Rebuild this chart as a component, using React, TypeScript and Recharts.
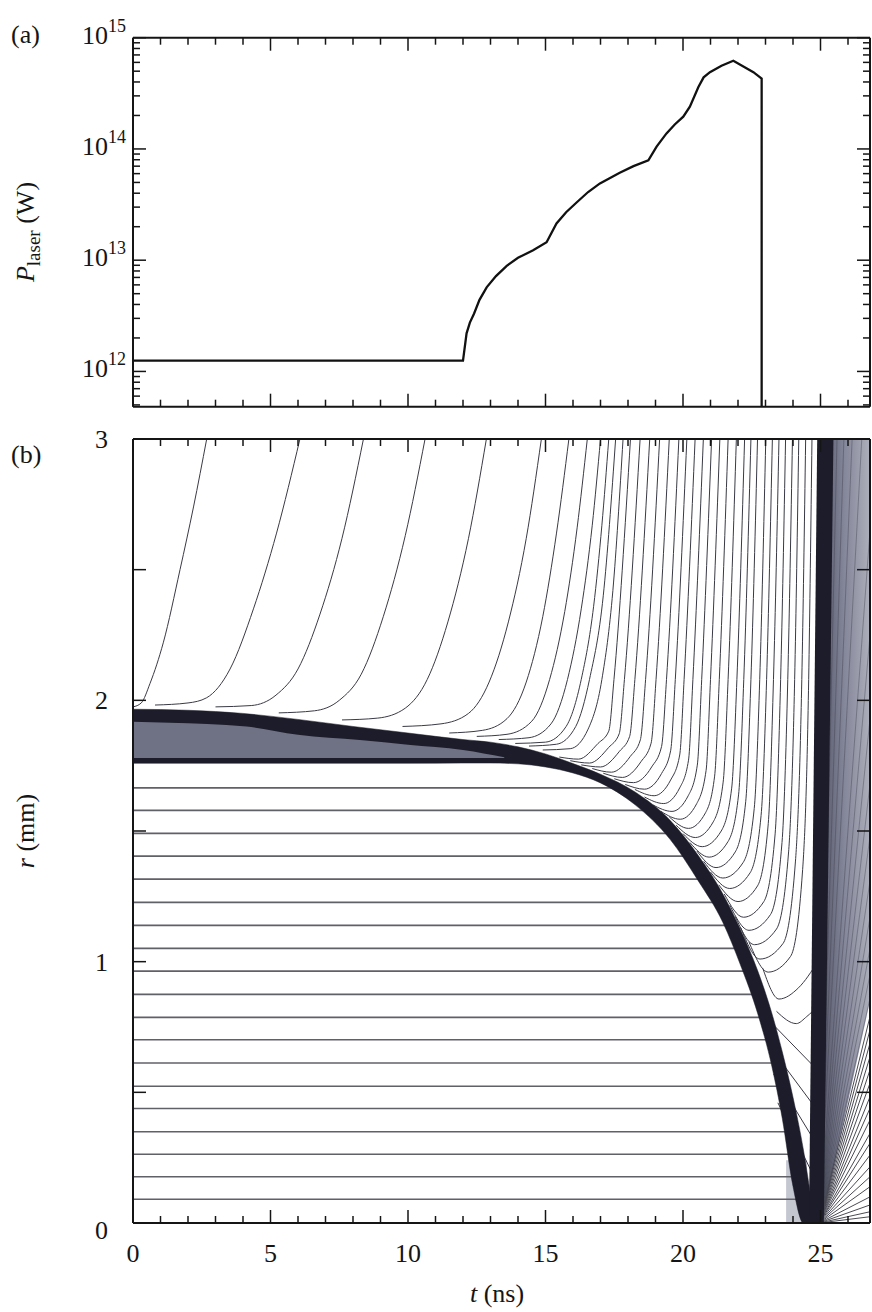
import React from 'react';
import { ComposedChart, Line, Area, XAxis, YAxis } from 'recharts';

const FONT = "'Liberation Serif', 'Times New Roman', Times, serif";
const INK = '#151515';
const TXT: React.CSSProperties = { fontFamily: FONT };

// ---------------- Panel (a): laser power ----------------
const laserT = [0, 12.0, 12.13, 12.25, 12.4, 12.6, 12.86, 13.2, 13.59, 14.0, 14.55, 15.04, 15.4, 15.75, 16.13, 16.55, 16.98, 17.7, 18.2, 18.74, 19.04, 19.4, 19.7, 20.01, 20.25, 20.56, 20.75, 20.98, 21.4, 21.83, 22.56, 22.86, 22.86];
const laserP = [1.25e12, 1.25e12, 2.2e12, 2.75e12, 3.3e12, 4.4e12, 5.7e12, 7.2e12, 8.9e12, 1.05e13, 1.23e13, 1.45e13, 2.14e13, 2.7e13, 3.3e13, 4.1e13, 4.9e13, 6.1e13, 7.0e13, 7.9e13, 1.05e14, 1.38e14, 1.66e14, 1.95e14, 2.4e14, 3.6e14, 4.4e14, 4.9e14, 5.6e14, 6.2e14, 4.9e14, 4.3e14, 4.9e11];
const powerDomain = [4.82e11, 1e15];
const powerTicks = [5e11, 6e11, 7e11, 8e11, 9e11, 1e12, 2e12, 3e12, 4e12, 5e12, 6e12, 7e12, 8e12, 9e12, 1e13, 2e13, 3e13, 4e13, 5e13, 6e13, 7e13, 8e13, 9e13, 1e14, 2e14, 3e14, 4e14, 5e14, 6e14, 7e14, 8e14, 9e14, 1e15];
const timeTicks = [0, 1, 2, 3, 4, 5, 6, 7, 8, 9, 10, 11, 12, 13, 14, 15, 16, 17, 18, 19, 20, 21, 22, 23, 24, 25, 26];
const timeDomain = [0, 26.8];

// ---------------- Panel (b): zone radii ----------------
const radiusTicks = [0, 0.5, 1, 1.5, 2, 2.5, 3];

// fuel zone boundaries (flat until the shell arrives)
const fuelR = [0.091, 0.177, 0.263, 0.349, 0.438, 0.523, 0.612, 0.701, 0.787, 0.875, 0.964, 1.051, 1.139, 1.227, 1.316, 1.404, 1.491, 1.579, 1.665];
const fuelEnd = [24.3, 24.1, 24.0, 23.85, 23.7, 23.6, 23.45, 23.2, 23.0, 22.7, 22.35, 22.05, 21.7, 21.35, 20.8, 20.2, 19.6, 18.75, 17.6];

// dense shell (dark band)
const shellT = [0, 2, 4, 6, 8, 10, 12, 13, 14, 15, 16, 16.98, 18.26, 19.53, 20.55, 21.45, 22.08, 22.72, 23.23, 23.61, 24.0, 24.38, 24.77];
const shellTop = [1.966, 1.962, 1.95, 1.927, 1.9, 1.875, 1.85, 1.84, 1.822, 1.795, 1.758, 1.718, 1.649, 1.541, 1.407, 1.259, 1.125, 0.964, 0.803, 0.655, 0.481, 0.279, 0.01];
const shellBottom = [1.759, 1.759, 1.759, 1.759, 1.759, 1.759, 1.76, 1.76, 1.757, 1.745, 1.722, 1.685, 1.6, 1.468, 1.31, 1.15, 0.99, 0.8, 0.6, 0.4, 0.14, 0.0, 0.0];

// lighter (ice) layer inside the shell at early times
const iceT = [0, 2, 3.4, 4.13, 6, 8.25, 10, 12, 13.5];
const iceTop = [1.918, 1.912, 1.906, 1.9, 1.868, 1.848, 1.83, 1.81, 1.782];
const iceBottom = [1.779, 1.779, 1.779, 1.779, 1.779, 1.779, 1.779, 1.779, 1.779];

// stagnation / disassembly band
const vbandT = [24.58, 24.88, 25.12, 25.47];
const vbandLo = [0, 0, 0, 3];
const vbandHi = [0, 3, 3, 3];

// grey expanding plume to the right
const plumeT = [25.1, 26.8];
const plumeLo = [0.03, 0.85];
const plumeHi = [3, 3];

// compressed core (hatched)
const coreT = [23.75, 24.5];
const coreLo = [0, 0];
const coreHi = [0.24, 0.24];

// re-expanding fuel zones (end radius at right edge)
const fanEndR = [0.024, 0.043, 0.069, 0.1, 0.139, 0.177, 0.215, 0.26, 0.305, 0.343, 0.394, 0.439, 0.483, 0.535, 0.586, 0.636, 0.688, 0.739, 0.79];
const plumeFanR = [0.86, 0.95, 1.05, 1.17, 1.31, 1.48, 1.68, 1.93, 2.25, 2.65];
const plumeFanTopT = [26.5, 26.15, 25.85, 25.6];

// ablated-plasma zone boundaries (t, r)
const ablationLines: number[][][] = [
  [[0, 1.975], [0.3, 1.99], [0.62, 2.065], [1.1, 2.22], [1.71, 2.5], [2.2, 2.74], [2.68, 3.0]],
  [[0.8, 1.982], [2.0, 1.99], [2.68, 2.01], [3.53, 2.12], [4.38, 2.35], [5.22, 2.64], [6.07, 3.0]],
  [[3.0, 1.975], [4.3, 1.98], [5.2, 2.02], [6.0, 2.12], [6.8, 2.33], [7.6, 2.62], [8.38, 3.0]],
  [[5.3, 1.952], [6.6, 1.96], [7.5, 2.0], [8.3, 2.1], [9.1, 2.32], [9.9, 2.63], [10.62, 3.0]],
  [[7.6, 1.925], [8.9, 1.932], [9.9, 1.97], [10.7, 2.08], [11.45, 2.3], [12.2, 2.62], [12.85, 3.0]],
  [[9.8, 1.9], [11.2, 1.91], [12.2, 1.95], [12.95, 2.07], [13.65, 2.3], [14.3, 2.62], [14.85, 3.0]],
  [[11.5, 1.875], [12.7, 1.885], [13.6, 1.93], [14.3, 2.07], [14.9, 2.32], [15.4, 2.64], [15.85, 3.0]],
  [[12.5, 1.862], [13.6, 1.87], [14.5, 1.92], [15.15, 2.08], [15.7, 2.34], [16.15, 2.66], [16.52, 3.0]],
  [[13.3, 1.85], [14.4, 1.857], [15.2, 1.91], [15.8, 2.08], [16.3, 2.35], [16.7, 2.67], [17.0, 3.0]],
  [[13.9, 1.835], [15.0, 1.84], [15.75, 1.9], [16.3, 2.08], [16.75, 2.36], [17.05, 2.67], [17.3, 3.0]],
  [[14.4, 1.825], [15.4, 1.832], [16.1, 1.9], [16.6, 2.08], [17.1, 2.4], [17.55, 3.0]],
  [[14.9, 1.81], [15.9, 1.815], [16.55, 1.89], [17.05, 2.08], [17.45, 2.42], [17.82, 3.0]],
];

const turningLines: number[][][] = [
  [[15.5, 1.783], [16.2, 1.775], [16.91, 1.835], [17.3, 1.882], [17.49, 2.08], [18.09, 3.0]],
  [[15.9, 1.769], [16.6, 1.76], [17.3, 1.82], [17.68, 1.872], [17.87, 2.08], [18.44, 3.0]],
  [[16.3, 1.753], [17.0, 1.745], [17.69, 1.805], [18.06, 1.862], [18.25, 2.08], [18.79, 3.0]],
  [[16.7, 1.739], [17.4, 1.725], [18.08, 1.785], [18.45, 1.849], [18.64, 2.08], [19.15, 3.0]],
  [[17.1, 1.721], [17.8, 1.705], [18.47, 1.765], [18.84, 1.836], [19.02, 2.08], [19.5, 3.0]],
  [[17.5, 1.7], [18.2, 1.685], [18.86, 1.745], [19.22, 1.823], [19.4, 2.08], [19.85, 3.0]],
  [[17.9, 1.678], [18.6, 1.66], [19.22, 1.72], [19.55, 1.807], [19.72, 2.08], [20.14, 3.0]],
  [[18.25, 1.659], [18.95, 1.635], [19.55, 1.695], [19.88, 1.791], [20.04, 2.08], [20.44, 3.0]],
  [[18.6, 1.63], [19.3, 1.605], [19.88, 1.665], [20.2, 1.771], [20.36, 2.08], [20.74, 3.0]],
  [[18.9, 1.6], [19.6, 1.575], [20.19, 1.635], [20.52, 1.752], [20.68, 2.08], [21.04, 3.0]],
  [[19.2, 1.575], [19.9, 1.545], [20.5, 1.605], [20.84, 1.732], [21.0, 2.08], [21.34, 3.0]],
  [[19.5, 1.554], [20.2, 1.51], [20.82, 1.57], [21.15, 1.71], [21.32, 2.08], [21.64, 3.0]],
  [[19.75, 1.522], [20.45, 1.475], [21.1, 1.535], [21.46, 1.687], [21.64, 2.08], [21.94, 3.0]],
  [[20.0, 1.49], [20.7, 1.44], [21.39, 1.5], [21.77, 1.664], [21.96, 2.08], [22.24, 3.0]],
  [[20.25, 1.456], [20.95, 1.4], [21.64, 1.46], [22.02, 1.638], [22.21, 2.08], [22.47, 3.0]],
  [[20.5, 1.424], [21.2, 1.36], [21.9, 1.42], [22.28, 1.612], [22.47, 2.08], [22.71, 3.0]],
  [[20.75, 1.384], [21.45, 1.32], [22.19, 1.38], [22.59, 1.586], [22.79, 2.08], [23.01, 3.0]],
  [[21.0, 1.343], [21.7, 1.28], [22.44, 1.34], [22.84, 1.56], [23.04, 2.08], [23.25, 3.0]],
  [[21.3, 1.294], [22.0, 1.23], [22.71, 1.29], [23.1, 1.528], [23.29, 2.08], [23.49, 3.0]],
  [[21.5, 1.259], [22.2, 1.17], [22.94, 1.23], [23.35, 1.489], [23.55, 2.08], [23.73, 3.0]],
  [[21.7, 1.216], [22.4, 1.12], [23.18, 1.18], [23.6, 1.456], [23.81, 2.08], [23.98, 3.0]],
  [[21.9, 1.173], [22.6, 1.065], [23.4, 1.125], [23.84, 1.42], [24.06, 2.08], [24.21, 3.0]],
  [[22.1, 1.13], [22.8, 1.01], [23.64, 1.07], [24.09, 1.385], [24.32, 2.08], [24.46, 3.0]],
  [[22.4, 1.075], [23.1, 0.96], [23.91, 1.02], [24.35, 1.352], [24.57, 2.08], [24.69, 3.0]],
];

const trappedLines: number[][][] = [
  [[22.9, 0.975], [23.49, 0.857], [24.2, 0.9], [24.9, 1.0]],
  [[23.4, 0.81], [24.12, 0.763], [24.5, 0.79], [24.9, 0.83]],
  [[22.9, 0.8], [24.75, 0.6]],
  [[23.16, 0.675], [24.75, 0.45]],
  [[23.3, 0.57], [24.75, 0.32]],
  [[23.45, 0.46], [24.75, 0.18]],
];

// ---------------- helpers ----------------
const pts = (arr: number[][]) => arr.map(([t, r]) => ({ t, r }));
const rangeData = (ts: number[], lo: number[], hi: number[]) => ts.map((t, i) => ({ t, v: [lo[i], hi[i]] }));

function seg(key: string, data: any[], stroke: string, width: number, type: any = 'monotone', opacity = 1) {
  return (
    <Line
      key={key}
      data={data}
      dataKey="r"
      type={type}
      stroke={stroke}
      strokeWidth={width}
      strokeOpacity={opacity}
      dot={false}
      activeDot={false}
      isAnimationActive={false}
      legendType="none"
    />
  );
}

function makeTimeTick(side: 'top' | 'bottom', withLabels: boolean) {
  return (props: any) => {
    const { x, y, payload } = props;
    const v = Number(payload.value);
    const major = Math.round(v) % 5 === 0;
    const len = major ? 13 : 7;
    const y2 = side === 'bottom' ? y - len : y + len;
    return (
      <g>
        <line x1={x} x2={x} y1={y} y2={y2} stroke={INK} strokeWidth={1.5} />
        {withLabels && major ? (
          <text x={x} y={y + 39} textAnchor="middle" style={TXT} fontSize={26} fill={INK}>
            {v}
          </text>
        ) : null}
      </g>
    );
  };
}

function makePowerTick(side: 'left' | 'right') {
  return (props: any) => {
    const { x, y, payload } = props;
    const v = Number(payload.value);
    const lg = Math.log10(v);
    const e = Math.round(lg);
    const major = Math.abs(lg - e) < 1e-6;
    const len = major ? 13 : 7;
    const x2 = side === 'left' ? x + len : x - len;
    return (
      <g>
        <line x1={x} x2={x2} y1={y} y2={y} stroke={INK} strokeWidth={1.5} />
        {side === 'left' && major ? (
          <text x={x - 7} y={y + 6} textAnchor="end" style={TXT} fontSize={26} fill={INK}>
            10
            <tspan dy={-12} fontSize={18}>
              {e}
            </tspan>
          </text>
        ) : null}
      </g>
    );
  };
}

function makeRadiusTick(side: 'left' | 'right') {
  return (props: any) => {
    const { x, y, payload } = props;
    const v = Number(payload.value);
    const isInt = Math.abs(v - Math.round(v)) < 1e-6;
    const len = 13;
    const x2 = side === 'left' ? x + len : x - len;
    return (
      <g>
        <line x1={x} x2={x2} y1={y} y2={y} stroke={INK} strokeWidth={1.5} />
        {side === 'left' && isInt ? (
          <text x={x - 25} y={y + (v === 0 ? 16 : 9)} textAnchor="end" style={TXT} fontSize={26} fill={INK}>
            {v}
          </text>
        ) : null}
      </g>
    );
  };
}

const axisLine = { stroke: INK, strokeWidth: 2 };

function PanelA() {
  const data = laserT.map((t, i) => ({ t, p: laserP[i] }));
  return (
    <ComposedChart width={872} height={420} margin={{ top: 36.7, right: 1, bottom: 12.3, left: 0 }}>
      <XAxis xAxisId={0} dataKey="t" type="number" domain={timeDomain} allowDataOverflow ticks={timeTicks} interval={0}
        height={1} tickSize={0} tickMargin={0} tickLine={false} axisLine={axisLine} tick={makeTimeTick('bottom', false)} />
      <XAxis xAxisId="top" orientation="top" dataKey="t" type="number" domain={timeDomain} allowDataOverflow ticks={timeTicks} interval={0}
        height={1} tickSize={0} tickMargin={0} tickLine={false} axisLine={axisLine} tick={makeTimeTick('top', false)} />
      <YAxis yAxisId={0} type="number" scale="log" domain={powerDomain} allowDataOverflow ticks={powerTicks} interval={0}
        width={133} tickSize={0} tickMargin={0} tickLine={false} axisLine={axisLine} tick={makePowerTick('left')} />
      <YAxis yAxisId="right" orientation="right" type="number" scale="log" domain={powerDomain} allowDataOverflow ticks={powerTicks} interval={0}
        width={1} tickSize={0} tickMargin={0} tickLine={false} axisLine={axisLine} tick={makePowerTick('right')} />
      <Line data={data} dataKey="p" type="linear" stroke="#111" strokeWidth={2.3} dot={false} activeDot={false} isAnimationActive={false} />
    </ComposedChart>
  );
}

function PanelB() {
  const lineColor = '#3a3a46';
  return (
    <ComposedChart width={872} height={892} margin={{ top: 18, right: 1, bottom: 1, left: 0 }}>
      <defs>
        <linearGradient id="plumeGrad" x1="0" y1="0" x2="1" y2="0">
          <stop offset="0%" stopColor="#5a5c6e" />
          <stop offset="45%" stopColor="#848699" />
          <stop offset="100%" stopColor="#adafbc" />
        </linearGradient>
      </defs>
      {/* background regions */}
      <Area data={rangeData(plumeT, plumeLo, plumeHi)} dataKey="v" type="linear" stroke="none" fill="url(#plumeGrad)" fillOpacity={1} isAnimationActive={false} activeDot={false} dot={false} legendType="none" />
      <Area data={rangeData(coreT, coreLo, coreHi)} dataKey="v" type="linear" stroke="none" fill="#c4c6d0" fillOpacity={1} isAnimationActive={false} activeDot={false} dot={false} legendType="none" />

      {/* plume texture */}
      {plumeFanR.map((r, i) => seg('pf' + i, [{ t: 24.95, r: 0 }, { t: 26.8, r }], '#3c3e4c', 0.8, 'linear', 0.5))}
      {plumeFanTopT.map((t, i) => seg('pt' + i, [{ t: 24.95, r: 0 }, { t, r: 3 }], '#3c3e4c', 0.8, 'linear', 0.5))}

      {/* fuel zones */}
      {fuelR.map((r, i) => seg('f' + i, [{ t: 0, r }, { t: fuelEnd[i], r }], '#606069', 1.6, 'linear'))}
      {fanEndR.map((r, i) => seg('fan' + i, [{ t: 24.95, r: 0 }, { t: 26.8, r }], '#4a4a54', 1.0, 'linear'))}

      {/* ablated material */}
      {ablationLines.map((l, i) => seg('a' + i, pts(l), lineColor, 1.0))}
      {turningLines.map((l, i) => seg('b' + i, pts(l), lineColor, 1.0))}
      {trappedLines.map((l, i) => seg('u' + i, pts(l), lineColor, 1.0))}

      {/* shell */}
      <Area zIndex={450} data={rangeData(shellT, shellBottom, shellTop)} dataKey="v" type="monotone" stroke="#1c1c2a" strokeWidth={0.5} fill="#1c1c2a" fillOpacity={1} isAnimationActive={false} activeDot={false} dot={false} legendType="none" />
      <Area zIndex={455} data={rangeData(iceT, iceBottom, iceTop)} dataKey="v" type="monotone" stroke="none" fill="#6f7184" fillOpacity={1} isAnimationActive={false} activeDot={false} dot={false} legendType="none" />
      <Area zIndex={460} data={rangeData(vbandT, vbandLo, vbandHi)} dataKey="v" type="linear" stroke="none" fill="#1c1c2a" fillOpacity={1} isAnimationActive={false} activeDot={false} dot={false} legendType="none" />

      <XAxis xAxisId={0} dataKey="t" type="number" domain={timeDomain} allowDataOverflow ticks={timeTicks} interval={0}
        height={88} tickSize={0} tickMargin={0} tickLine={false} axisLine={axisLine} tick={makeTimeTick('bottom', true)} />
      <XAxis xAxisId="top" orientation="top" dataKey="t" type="number" domain={timeDomain} allowDataOverflow ticks={timeTicks} interval={0}
        height={1} tickSize={0} tickMargin={0} tickLine={false} axisLine={axisLine} tick={makeTimeTick('top', false)} />
      <YAxis yAxisId={0} type="number" domain={[0, 3]} allowDataOverflow ticks={radiusTicks} interval={0}
        width={133} tickSize={0} tickMargin={0} tickLine={false} axisLine={axisLine} tick={makeRadiusTick('left')} />
      <YAxis yAxisId="right" orientation="right" type="number" domain={[0, 3]} allowDataOverflow ticks={radiusTicks} interval={0}
        width={1} tickSize={0} tickMargin={0} tickLine={false} axisLine={axisLine} tick={makeRadiusTick('right')} />
    </ComposedChart>
  );
}

export default function App() {
  return (
    <div style={{ position: 'absolute', left: 0, top: 0, width: 872, height: 1312, background: '#fff', overflow: 'hidden', fontFamily: FONT }}>
      <div style={{ position: 'absolute', left: 0, top: 0 }}>
        <PanelA />
      </div>
      <div style={{ position: 'absolute', left: 0, top: 420 }}>
        <PanelB />
      </div>
      <svg width={872} height={1312} style={{ position: 'absolute', left: 0, top: 0, pointerEvents: 'none', fontFamily: FONT }}>
        <text x={11} y={43} style={TXT} fontSize={26} fill={INK}>(a)</text>
        <text x={11} y={463} style={TXT} fontSize={26} fill={INK}>(b)</text>
        <text transform="translate(34,232) rotate(-90)" textAnchor="middle" style={TXT} fontSize={26} fill={INK}>
          <tspan fontStyle="italic">P</tspan>
          <tspan fontSize={19} dy={6}>laser</tspan>
          <tspan dy={-6}> (W)</tspan>
        </text>
        <text transform="translate(34,831) rotate(-90)" textAnchor="middle" style={TXT} fontSize={26} fill={INK}>
          <tspan fontStyle="italic">r</tspan>
          <tspan> (mm)</tspan>
        </text>
        <text x={497} y={1302} textAnchor="middle" style={TXT} fontSize={26} fill={INK}>
          <tspan fontStyle="italic">t</tspan>
          <tspan> (ns)</tspan>
        </text>
      </svg>
    </div>
  );
}
